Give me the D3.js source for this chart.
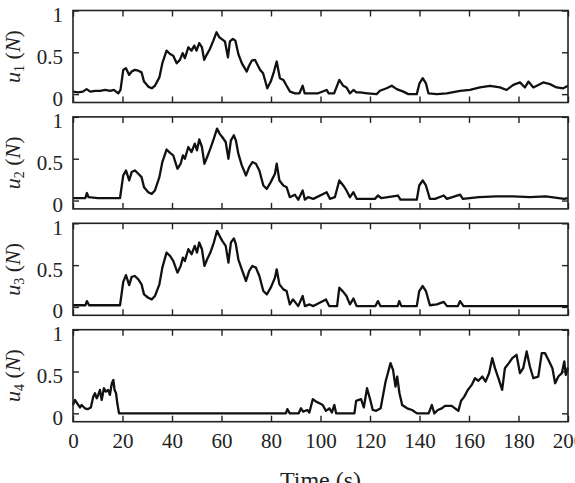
<!DOCTYPE html>
<meta charset="utf-8">
<script src="https://d3js.org/d3.v7.min.js"></script>
<style>
  body { margin: 0; background: #fff; }
  svg text { font-family: "Liberation Serif", serif !important; fill: #222; }
</style>
<div id="chart"></div>
<script>
// ---- data (time in s, force in N) ----
var xTicks = [0, 20, 40, 60, 80, 100, 120, 140, 160, 180, 200];
var yTicks = [0, 0.5, 1];
var labels = ["1", "2", "3", "4"];

var u1 = [[0,0.03],[2,0.02],[4,0.03],[5.5,0.06],[7,0.03],[9,0.04],[11,0.04],[13,0.05],[15,0.04],[16.5,0.05],[18.3,0.01],[19.2,0.05],
  [20.3,0.29],[21.4,0.31],[22.7,0.23],[23.7,0.27],[25,0.29],[26.4,0.28],[27.7,0.26],[28.7,0.15],[30.4,0.09],[31.8,0.07],[33.1,0.10],
  [34.9,0.20],[36.1,0.37],[37.8,0.52],[39.2,0.48],[40.5,0.46],[41.9,0.37],[43.2,0.41],[44.3,0.49],[45.2,0.43],[46.6,0.56],[47.9,0.52],
  [49,0.58],[49.9,0.52],[51,0.61],[52.1,0.56],[53,0.41],[54,0.47],[55.3,0.54],[56.7,0.64],[58,0.74],[59.1,0.68],[60,0.66],[61.4,0.63],
  [62.6,0.44],[63.4,0.63],[64.6,0.66],[65.6,0.64],[66.8,0.48],[68.2,0.37],[70.2,0.27],[71,0.33],[72.2,0.40],[73.5,0.41],[74.9,0.33],
  [75.6,0.29],[76.8,0.25],[78.5,0.07],[79.9,0.15],[81.2,0.27],[82.3,0.39],[83.6,0.19],[85,0.17],[86.3,0.10],[87.7,0.03],[89.7,0.01],
  [91.5,0.01],[92.8,0.10],[93.6,0.01],[96,0.01],[99,0.01],[102.5,0.05],[103.3,0.01],[105.5,0.01],[107.6,0.17],[109.2,0.10],[110.5,0.08],
  [111.9,0.01],[113.3,0.05],[114.5,0.02],[116,0.02],[119,0.01],[122.7,0.00],[124,0.04],[126.7,0.07],[128.8,0.10],[130.8,0.06],[133.5,0.03],
  [135.5,0.00],[138.9,0.00],[140,0.13],[141.3,0.19],[142.6,0.13],[143.6,0.01],[147,0.00],[151,0.01],[156.4,0.04],[160.4,0.05],[164.4,0.08],
  [168.5,0.10],[172.5,0.08],[175.2,0.05],[177.9,0.11],[180.6,0.14],[182.6,0.08],[184,0.15],[186,0.08],[190,0.14],[192.7,0.12],[195.4,0.08],
  [198.1,0.07],[200,0.10]];

var u2 = [[0,0.03],[5,0.03],[5.6,0.09],[6.3,0.04],[10,0.03],[15,0.03],[19,0.03],[20.3,0.30],[21.4,0.36],[22.7,0.24],[23.7,0.34],[25,0.36],
  [26.4,0.32],[27.7,0.28],[28.7,0.16],[30.4,0.10],[31.8,0.08],[33.1,0.12],[34.9,0.28],[36.1,0.46],[37.8,0.61],[39.2,0.57],[40.5,0.54],
  [42.2,0.38],[43.5,0.44],[44.4,0.54],[45.2,0.50],[46.6,0.64],[47.9,0.58],[49.2,0.68],[50.1,0.60],[51,0.73],[52.1,0.64],[53.1,0.44],
  [54.2,0.52],[55.5,0.62],[56.9,0.74],[58.2,0.86],[59.2,0.80],[60.3,0.76],[61.7,0.70],[62.8,0.50],[63.8,0.72],[65,0.78],[65.8,0.72],
  [66.8,0.56],[68.2,0.42],[69.9,0.30],[71.2,0.40],[72.5,0.46],[73.9,0.44],[75.3,0.36],[76.9,0.18],[78.3,0.14],[79.9,0.22],[81.6,0.32],
  [82.3,0.44],[83.4,0.24],[85,0.18],[86.3,0.16],[87.6,0.04],[89.6,0.07],[91,0.01],[92.8,0.12],[93.7,0.01],[95,0.04],[97.1,0.02],
  [102.5,0.10],[103.8,0.02],[105.8,0.04],[107.6,0.24],[109.2,0.18],[110.5,0.12],[111.9,0.04],[113.3,0.10],[114.6,0.02],[122,0.02],
  [123.2,0.06],[124.5,0.03],[131.3,0.06],[132.3,0.01],[138.9,0.01],[139.9,0.18],[141.3,0.24],[142.6,0.18],[144.2,0.02],[146.3,0.02],
  [149.8,0.06],[151.1,0.02],[156.4,0.07],[157.5,0.02],[164,0.04],[171,0.05],[177.8,0.05],[184.6,0.04],[191,0.05],[198.5,0.02],[200,0.03]];

var u3 = [[0,0.02],[5,0.02],[5.6,0.07],[6.5,0.02],[19,0.02],[20.3,0.30],[21.4,0.38],[22.7,0.26],[23.7,0.36],[25,0.37],[26.4,0.33],
  [27.7,0.27],[28.7,0.15],[30.4,0.11],[31.8,0.09],[33.1,0.13],[34.9,0.27],[36.1,0.47],[37.8,0.65],[39.2,0.61],[40.5,0.55],[42.2,0.41],
  [43.5,0.49],[44.4,0.59],[45.2,0.55],[46.6,0.69],[47.9,0.63],[49.2,0.73],[50.1,0.65],[51,0.77],[52.1,0.69],[53.1,0.49],[54.2,0.57],
  [55.5,0.65],[56.9,0.77],[58.2,0.91],[59.2,0.85],[60.3,0.79],[61.7,0.73],[62.8,0.53],[63.8,0.77],[65,0.82],[65.8,0.75],[66.8,0.57],
  [68.2,0.45],[69.9,0.31],[71.2,0.43],[72.5,0.49],[73.9,0.47],[75.3,0.37],[76.9,0.19],[78.3,0.15],[79.9,0.23],[81.6,0.35],[82.3,0.45],
  [83.4,0.27],[85,0.21],[86.3,0.19],[87.6,0.03],[88.9,0.09],[91,0.01],[92.8,0.13],[93.7,0.01],[95.6,0.03],[97.1,0.01],[102.2,0.09],
  [103.5,0.01],[106.7,0.01],[107.6,0.23],[109.2,0.18],[110.5,0.13],[111.9,0.03],[113.3,0.10],[114.6,0.01],[122.2,0.01],[123.2,0.07],
  [124.2,0.01],[131.2,0.01],[131.8,0.07],[132.7,0.01],[138.9,0.01],[139.9,0.19],[141.3,0.25],[142.6,0.19],[144.2,0.02],[147,0.03],
  [149.8,0.06],[151.1,0.01],[155.5,0.01],[156.4,0.07],[157.8,0.01],[200,0.01]];

var u4 = [[0,0.10],[0.8,0.16],[1.7,0.12],[2.8,0.07],[3.5,0.10],[4.8,0.06],[5.9,0.05],[7.2,0.07],[8.2,0.20],[8.9,0.24],[9.6,0.18],
  [10.2,0.22],[10.9,0.28],[11.6,0.16],[12.5,0.30],[13.3,0.26],[14.2,0.28],[14.9,0.22],[15.7,0.36],[16.3,0.40],[16.8,0.28],[17.4,0.24],
  [17.9,0.12],[18.6,0.0],[86,0.0],[86.6,0.05],[87.6,0.0],[91.2,0.0],[92.1,0.06],[93,0.02],[94.7,0.04],[95.5,0.01],[96.2,0.09],[96.9,0.17],
  [98.2,0.14],[99.6,0.12],[100.9,0.10],[102.2,0.03],[103.6,0.06],[104.6,0.01],[105.6,0.10],[106.3,0.0],[113.7,0.0],[114.4,0.15],
  [116.4,0.17],[117.5,0.07],[118.8,0.30],[120.2,0.15],[121.1,0.04],[122.5,0.03],[124.3,0.06],[126.3,0.38],[128.3,0.60],[129.3,0.52],
  [130.3,0.32],[131,0.44],[131.9,0.24],[133,0.10],[135,0.06],[137,0.04],[139,0.0],[143.7,0.0],[145,0.10],[146,0.0],[147.4,0.04],
  [149,0.06],[150.3,0.09],[153,0.09],[155.7,0.03],[156.8,0.15],[158.1,0.20],[159.5,0.28],[161.1,0.34],[162.4,0.42],[163.8,0.39],
  [165.4,0.44],[166.7,0.38],[168.1,0.48],[169.4,0.66],[170.5,0.54],[172.1,0.40],[173.4,0.28],[174.5,0.54],[176.1,0.60],[177.5,0.66],
  [179.2,0.70],[180.6,0.48],[181.9,0.54],[183.3,0.74],[184.6,0.56],[186,0.42],[188,0.44],[189.4,0.72],[190.7,0.72],[192.4,0.62],
  [193.7,0.54],[194.8,0.36],[196.1,0.44],[197.5,0.48],[198.5,0.62],[199.1,0.46],[200,0.55]];

var series = [u1, u2, u3, u4];

// ---- layout ----
var W = 575, H = 483;
var left = 73, plotW = 495, panelH = 92, top0 = 10.5, step = 106.4;

var svg = d3.select("#chart").append("svg")
    .attr("width", W)
    .attr("height", H);

var x = d3.scaleLinear().domain([0, 200]).range([0, plotW]);
var y = d3.scaleLinear().domain([-0.1, 1]).range([panelH, 0]);

var line = d3.line()
    .x(function(d) { return x(d[0]); })
    .y(function(d) { return y(d[1]); });

series.forEach(function(data, i) {
  var g = svg.append("g")
      .attr("transform", "translate(" + left + "," + (top0 + i * step) + ")");

  // inside ticks on all four sides
  var noLab = function() { return ""; };
  g.append("g").attr("class", "ax")
      .call(d3.axisTop(x).tickValues(xTicks).tickSize(-6).tickFormat(noLab));
  g.append("g").attr("class", "ax")
      .attr("transform", "translate(0," + panelH + ")")
      .call(d3.axisBottom(x).tickValues(xTicks).tickSize(-6).tickPadding(11)
        .tickFormat(i === 3 ? d3.format("d") : noLab));
  g.append("g").attr("class", "ax")
      .attr("transform", "translate(" + plotW + ",0)")
      .call(d3.axisRight(y).tickValues(yTicks).tickSize(-6).tickFormat(noLab));
  var leftAx = g.append("g").attr("class", "ax")
      .call(d3.axisLeft(y).tickValues(yTicks).tickSize(-6).tickPadding(10)
        .tickFormat(function(d) { return String(d); }));
  leftAx.selectAll("text").attr("dy", "0.52em");

  g.selectAll(".ax").attr("font-family", null);
  g.selectAll(".ax .domain").remove();
  g.selectAll(".ax line").attr("stroke", "#222").attr("stroke-width", 1.4);
  g.selectAll(".ax text").attr("font-size", 21).attr("fill", "#222");

  // the signal
  g.append("path")
      .datum(data)
      .attr("fill", "none")
      .attr("stroke", "#111")
      .attr("stroke-width", 2.3)
      .attr("stroke-linejoin", "round")
      .attr("d", line);

  // frame
  g.append("rect")
      .attr("width", plotW)
      .attr("height", panelH)
      .attr("fill", "none")
      .attr("stroke", "#222")
      .attr("stroke-width", 1.6);

  // y label  u_i (N)
  var lab = svg.append("text")
      .attr("transform", "translate(20," + (top0 + i * step + panelH / 2) + ") rotate(-90)")
      .attr("text-anchor", "middle")
      .attr("font-size", 22);
  lab.append("tspan").attr("font-style", "italic").text("u");
  lab.append("tspan").attr("font-size", 14).attr("dy", 4).text(labels[i]);
  lab.append("tspan").attr("dy", -4).text(" (");
  lab.append("tspan").attr("font-style", "italic").text("N");
  lab.append("tspan").text(")");
});

// x label
svg.append("text")
    .attr("x", left + plotW / 2)
    .attr("y", 488)
    .attr("text-anchor", "middle")
    .attr("font-size", 24)
    .text("Time (s)");
</script>
